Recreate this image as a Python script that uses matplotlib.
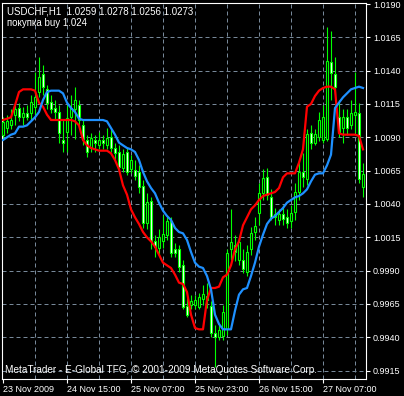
import matplotlib.pyplot as plt
import numpy as np

# USDCHF H1 bars, 23 Nov 2009 23:00 onwards (one bar per hour)
opens = [1.0092, 1.0097, 1.0099, 1.0107, 1.0112, 1.0105, 1.0108, 1.0108, 1.0113, 1.0124,
         1.0137, 1.0126, 1.0116, 1.0112, 1.0109, 1.0088, 1.0094, 1.0105, 1.0111, 1.0114,
         1.0099, 1.0088, 1.0082, 1.0088, 1.0084, 1.0088, 1.0084, 1.0090, 1.0082, 1.0079,
         1.0067, 1.0079, 1.0066, 1.0065, 1.0064, 1.0053, 1.0026, 1.0042, 1.0012, 1.0007,
         1.0012, 1.0017, 1.0027, 1.0006, 1.0006, 0.9994, 0.9963, 0.9964, 0.9964, 0.9963,
         0.9969, 0.9971, 0.9963, 0.9943, 0.9940, 0.9941, 0.9946, 1.0006, 1.0009, 0.9998,
         0.9998, 0.9989, 1.0006, 1.0019, 1.0033, 1.0048, 1.0060, 1.0045, 1.0032, 1.0028,
         1.0032, 1.0030, 1.0027, 1.0034, 1.0049, 1.0064, 1.0059, 1.0093, 1.0086, 1.0090,
         1.0088, 1.0089, 1.0146, 1.0137, 1.0105, 1.0097, 1.0105, 1.0099, 1.0107, 1.0108,
         1.0053]
highs = [1.0105, 1.0107, 1.0111, 1.0114, 1.0116, 1.0113, 1.0114, 1.0122, 1.0139, 1.0150,
         1.0144, 1.0129, 1.0122, 1.0118, 1.0114, 1.0104, 1.0114, 1.0122, 1.0128, 1.0118,
         1.0103, 1.0092, 1.0093, 1.0092, 1.0094, 1.0092, 1.0097, 1.0096, 1.0086, 1.0084,
         1.0081, 1.0082, 1.0077, 1.0073, 1.0069, 1.0058, 1.0048, 1.0045, 1.0017, 1.0021,
         1.0032, 1.0032, 1.0030, 1.0011, 1.0009, 0.9998, 0.9970, 0.9972, 0.9972, 0.9973,
         0.9979, 0.9981, 0.9967, 0.9949, 0.9949, 0.9964, 1.0006, 1.0036, 1.0017, 1.0015,
         1.0006, 1.0009, 1.0023, 1.0030, 1.0056, 1.0066, 1.0067, 1.0051, 1.0037, 1.0036,
         1.0039, 1.0036, 1.0039, 1.0056, 1.0073, 1.0078, 1.0096, 1.0099, 1.0096, 1.0109,
         1.0114, 1.0173, 1.0170, 1.0150, 1.0118, 1.0111, 1.0111, 1.0118, 1.0139, 1.0116,
         1.0071]
lows = [1.0088, 1.0093, 1.0096, 1.0099, 1.0102, 1.0099, 1.0103, 1.0103, 1.0107, 1.0120,
        1.0122, 1.0111, 1.0108, 1.0104, 1.0086, 1.0079, 1.0079, 1.0092, 1.0089, 1.0099,
        1.0084, 1.0075, 1.0079, 1.0079, 1.0081, 1.0081, 1.0081, 1.0079, 1.0073, 1.0066,
        1.0064, 1.0062, 1.0063, 1.0058, 1.0048, 1.0022, 1.0021, 1.0006, 1.0000, 1.0002,
        1.0007, 1.0013, 1.0000, 1.0000, 0.9989, 0.9961, 0.9955, 0.9961, 0.9961, 0.9961,
        0.9964, 0.9962, 0.9940, 0.9918, 0.9938, 0.9938, 0.9942, 0.9998, 0.9997, 0.9994,
        0.9988, 0.9986, 1.0002, 1.0013, 1.0024, 1.0043, 1.0043, 1.0028, 1.0024, 1.0024,
        1.0024, 1.0022, 1.0022, 1.0028, 1.0043, 1.0053, 1.0054, 1.0081, 1.0084, 1.0087,
        1.0086, 1.0087, 1.0118, 1.0122, 1.0090, 1.0086, 1.0092, 1.0096, 1.0093, 1.0056,
        1.0045]
closes = [1.0101, 1.0102, 1.0103, 1.0111, 1.0105, 1.0108, 1.0105, 1.0116, 1.0120, 1.0135,
          1.0128, 1.0116, 1.0111, 1.0109, 1.0093, 1.0086, 1.0104, 1.0112, 1.0118, 1.0103,
          1.0089, 1.0079, 1.0089, 1.0086, 1.0088, 1.0086, 1.0089, 1.0082, 1.0078, 1.0068,
          1.0077, 1.0064, 1.0073, 1.0061, 1.0053, 1.0026, 1.0041, 1.0012, 1.0008, 1.0015,
          1.0017, 1.0027, 1.0003, 1.0003, 0.9993, 0.9963, 0.9957, 0.9967, 0.9968, 0.9970,
          0.9972, 0.9968, 0.9943, 0.9940, 0.9945, 0.9959, 1.0003, 1.0011, 1.0004, 1.0011,
          0.9991, 1.0004, 1.0018, 1.0023, 1.0048, 1.0059, 1.0047, 1.0030, 1.0030, 1.0032,
          1.0029, 1.0026, 1.0033, 1.0049, 1.0064, 1.0060, 1.0092, 1.0086, 1.0092, 1.0103,
          1.0105, 1.0147, 1.0138, 1.0128, 1.0094, 1.0105, 1.0097, 1.0108, 1.0109, 1.0059,
          1.0062]

# indicator lines
red_line = [1.0103, 1.0104, 1.0105, 1.0114, 1.0124, 1.0126, 1.0126, 1.0126, 1.0125, 1.0116,
            1.0113, 1.0107, 1.0103, 1.0103, 1.0103, 1.0103, 1.0103, 1.0103, 1.0102, 1.0099,
            1.0088, 1.0084, 1.0082, 1.0081, 1.0080, 1.0080, 1.0080, 1.0078, 1.0073, 1.0066,
            1.0054, 1.0047, 1.0036, 1.0030, 1.0025, 1.0019, 1.0015, 1.0012, 1.0008, 1.0002,
            0.9996, 0.9994, 0.9992, 0.9987, 0.9981, 0.9980, 0.9974, 0.9957, 0.9947, 0.9946,
            0.9946, 0.9968, 0.9977, 0.9977, 0.9978, 0.9985, 0.9987, 0.9994, 1.0006, 1.0012,
            1.0024, 1.0030, 1.0036, 1.0039, 1.0043, 1.0046, 1.0047, 1.0048, 1.0049, 1.0052,
            1.0060, 1.0063, 1.0063, 1.0063, 1.0071, 1.0081, 1.0113, 1.0115, 1.0121, 1.0125,
            1.0127, 1.0128, 1.0128, 1.0126, 1.0093, 1.0092, 1.0092, 1.0092, 1.0092, 1.0091,
            1.0081]
blue_line = [1.0088, 1.0090, 1.0092, 1.0093, 1.0098, 1.0098, 1.0099, 1.0102, 1.0105, 1.0109,
             1.0118, 1.0124, 1.0125, 1.0125, 1.0125, 1.0123, 1.0116, 1.0112, 1.0109, 1.0104,
             1.0103, 1.0103, 1.0103, 1.0103, 1.0103, 1.0103, 1.0102, 1.0097, 1.0092, 1.0086,
             1.0084, 1.0082, 1.0081, 1.0079, 1.0073, 1.0064, 1.0057, 1.0052, 1.0048, 1.0041,
             1.0035, 1.0031, 1.0028, 1.0022, 1.0019, 1.0018, 1.0013, 1.0004, 0.9996, 0.9993,
             0.9992, 0.9986, 0.9976, 0.9957, 0.9950, 0.9946, 0.9946, 0.9946, 0.9960, 0.9972,
             0.9976, 0.9977, 0.9986, 0.9996, 1.0008, 1.0017, 1.0025, 1.0029, 1.0031, 1.0034,
             1.0037, 1.0041, 1.0043, 1.0045, 1.0046, 1.0048, 1.0051, 1.0057, 1.0062, 1.0063,
             1.0063, 1.0069, 1.0077, 1.0112, 1.0116, 1.0120, 1.0123, 1.0126, 1.0127, 1.0128,
             1.0127]

date_bars = [0, 16, 32, 48, 64, 80]
date_labels = ["23 Nov 2009", "24 Nov 15:00", "25 Nov 07:00",
               "25 Nov 23:00", "26 Nov 15:00", "27 Nov 07:00"]
price_ticks = [0.9915, 0.9940, 0.9965, 0.9990, 1.0015, 1.0040, 1.0065,
               1.0090, 1.0115, 1.0140, 1.0165, 1.0190]

plt.rcParams['font.family'] = ['Liberation Sans', 'DejaVu Sans']

W, H = 404, 396
fig = plt.figure(figsize=(W / 100, H / 100), dpi=100, facecolor='black')
ax = fig.add_axes([2 / W, 1 - 379 / H, 364 / W, 376 / H])
ax.set_facecolor('black')

x = np.arange(len(closes))
o = np.array(opens)
c = np.array(closes)

# grid
for p in price_ticks[:-1]:
    ax.axhline(p, color='#778899', lw=0.72, ls=(0, (4, 3)), zorder=0)
for b in range(8, len(closes), 8):
    ax.axvline(b, color='#778899', lw=0.72, ls=(0, (4, 3)), zorder=0)

# candles
ax.vlines(x, lows, highs, color='#00ff00', lw=0.8, zorder=2)
fill = np.where(c >= o, 'black', 'white')
ax.bar(x, np.abs(c - o) + 0.00002, bottom=np.minimum(o, c), width=0.55,
       color=fill, edgecolor='#00ff00', linewidth=0.8, zorder=3)

ax.plot(x, red_line, color='#ff0000', lw=1.6, zorder=4)
ax.plot(x, blue_line, color='#1e90ff', lw=1.6, zorder=4)

ax.set_xlim(-0.25, len(closes) - 0.25)
ax.set_ylim(0.990875, 1.019075)

for s in ax.spines.values():
    s.set_color('white')
    s.set_linewidth(0.8)

ax.yaxis.tick_right()
ax.set_yticks(price_ticks)
ax.set_yticklabels([f'{p:.4f}' for p in price_ticks])
ax.set_xticks(date_bars)
ax.set_xticklabels(date_labels, ha='left')
ax.tick_params(colors='white', labelcolor='white', labelsize=6.5, length=3, width=0.8)
ax.tick_params(axis='y', pad=2)
ax.tick_params(axis='x', pad=1)

fig.text(7 / W, 1 - 6 / H, 'USDCHF,H1  1.0259 1.0278 1.0256 1.0273', color='white',
         fontsize=7, va='top', ha='left')
fig.text(7 / W, 1 - 18 / H, 'покупка buy 1.024', color='white',
         fontsize=7, va='top', ha='left')
fig.text(5 / W, 1 - 370 / H, 'MetaTrader - E-Global TFG, © 2001-2009 MetaQuotes Software Corp.',
         color='white', fontsize=7.2, va='center', ha='left')

fig.savefig('out.png', dpi=100, facecolor='black')
